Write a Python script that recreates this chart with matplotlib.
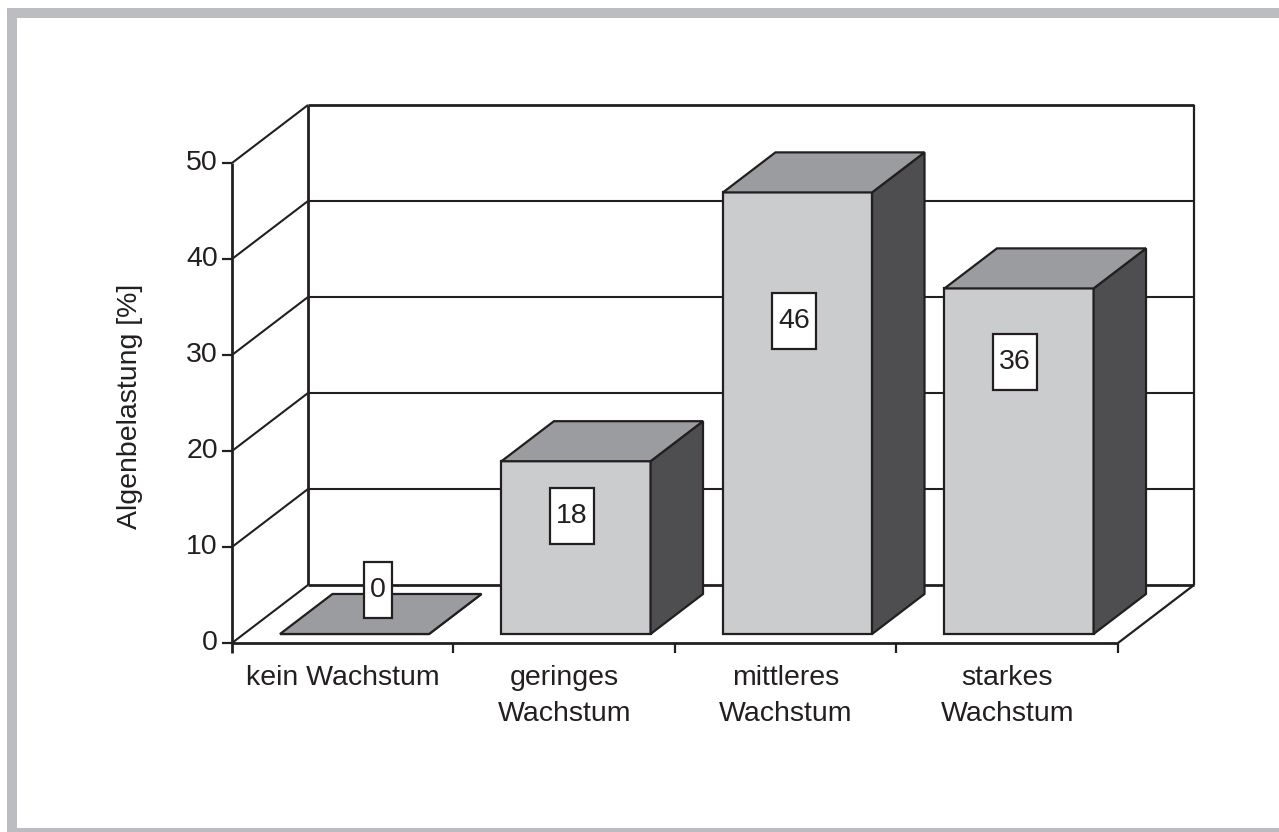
import matplotlib
matplotlib.use("Agg")
import matplotlib.pyplot as plt
from matplotlib.patches import Polygon, Rectangle

plt.rcParams["font.family"] = ["Liberation Sans", "DejaVu Sans"]

# data
categories = ["kein Wachstum", "geringes\nWachstum", "mittleres\nWachstum", "starkes\nWachstum"]
values = [0, 18, 46, 36]
y_ticks = [0, 10, 20, 30, 40, 50]
y_label = "Algenbelastung [%]"

# label box centres (x in category units, y in %)
label_pos = [(0.66, 5.5), (1.535, 13.2), (2.537, 33.5), (3.535, 29.3)]

# pseudo-3D layout (data units)
W, H = 1279, 832
PX_X = 221.5       # px per category
PX_Y = 9.6         # px per %
X0_PX, Y0_PX = 232, 643
DX, DY = 76 / PX_X, 58 / PX_Y    # depth vector of the floor
F, B = 0.155, 0.845              # bar front / back depth fraction
BAR_W = 0.673

LINE = "#231f20"
C_FRONT = "#cbccce"
C_TOP = "#9b9c9f"
C_SIDE = "#4e4e50"
FS = 20.5

fig = plt.figure(figsize=(W / 100, H / 100), dpi=100)
ax = fig.add_axes([0, 0, 1, 1])
ax.set_xlim(-X0_PX / PX_X, (W - X0_PX) / PX_X)
ax.set_ylim(-(H - Y0_PX) / PX_Y, Y0_PX / PX_Y)
ax.axis("off")

# grey frame around the picture
fig.patches.append(Rectangle((12 / W, 1 - 833 / H), (1290 - 12) / W, (833 - 13) / H,
                             transform=fig.transFigure, fill=False,
                             edgecolor="#bcbdc1", lw=7.2, zorder=0))

n = len(categories)
ymax = y_ticks[-1]


def ln(xs, ys, lw=1.6, z=1):
    ax.plot(xs, ys, color=LINE, lw=lw, solid_capstyle="butt", zorder=z)


# back wall + gridlines
for v in y_ticks:
    ln([DX, n + DX], [v + DY, v + DY], lw=2.0 if v in (0, ymax) else 1.5)
    ln([0, DX], [v, v + DY], lw=1.5)
ln([DX, DX], [DY, ymax + DY], lw=2.0)
ln([n + DX, n + DX], [DY, ymax + DY], lw=1.6)

# front axes, floor
ln([0, 0], [-1.0, ymax], lw=2.0)
ln([0, n], [0, 0], lw=2.0)
ln([n, n + DX], [0, DY], lw=1.6)
for v in y_ticks:
    ln([-10 / PX_X, 0], [v, v], lw=1.6)
    ax.text(-14 / PX_X, v, str(v), ha="right", va="center", fontsize=FS, color=LINE)
for i in range(1, n + 1):
    ln([i, i], [0, -10 / PX_Y], lw=1.6)

for i, (cat, val) in enumerate(zip(categories, values)):
    xl = i + 0.5 - BAR_W / 2
    xr = xl + BAR_W

    def p(x, y, d):
        return (x + d * DX, y + d * DY)

    front = [p(xl, 0, F), p(xr, 0, F), p(xr, val, F), p(xl, val, F)]
    top = [p(xl, val, F), p(xr, val, F), p(xr, val, B), p(xl, val, B)]
    side = [p(xr, 0, F), p(xr, 0, B), p(xr, val, B), p(xr, val, F)]
    for poly, col in ((front, C_FRONT), (side, C_SIDE), (top, C_TOP)):
        ax.add_patch(Polygon(poly, closed=True, facecolor=col, edgecolor=LINE,
                             lw=1.6, joinstyle="miter", zorder=3))

    # value label in a white box
    lx, ly = label_pos[i]
    txt = str(val)
    bw = (13 + 15.5 * len(txt)) / PX_X
    bh = 56 / PX_Y
    ax.add_patch(Rectangle((lx - bw / 2, ly - bh / 2), bw, bh, facecolor="white",
                           edgecolor=LINE, lw=1.6, zorder=5))
    ax.text(lx, ly, txt, ha="center", va="center", fontsize=FS, color=LINE, zorder=6)

    ax.text(i + 0.5, -2.3, cat, ha="center", va="top", fontsize=FS, color=LINE,
            linespacing=1.5)

ax.text(-102 / PX_X, 24.7, y_label, rotation=90, ha="center", va="center",
        fontsize=FS, color=LINE)

fig.savefig("out.png", dpi=100)
